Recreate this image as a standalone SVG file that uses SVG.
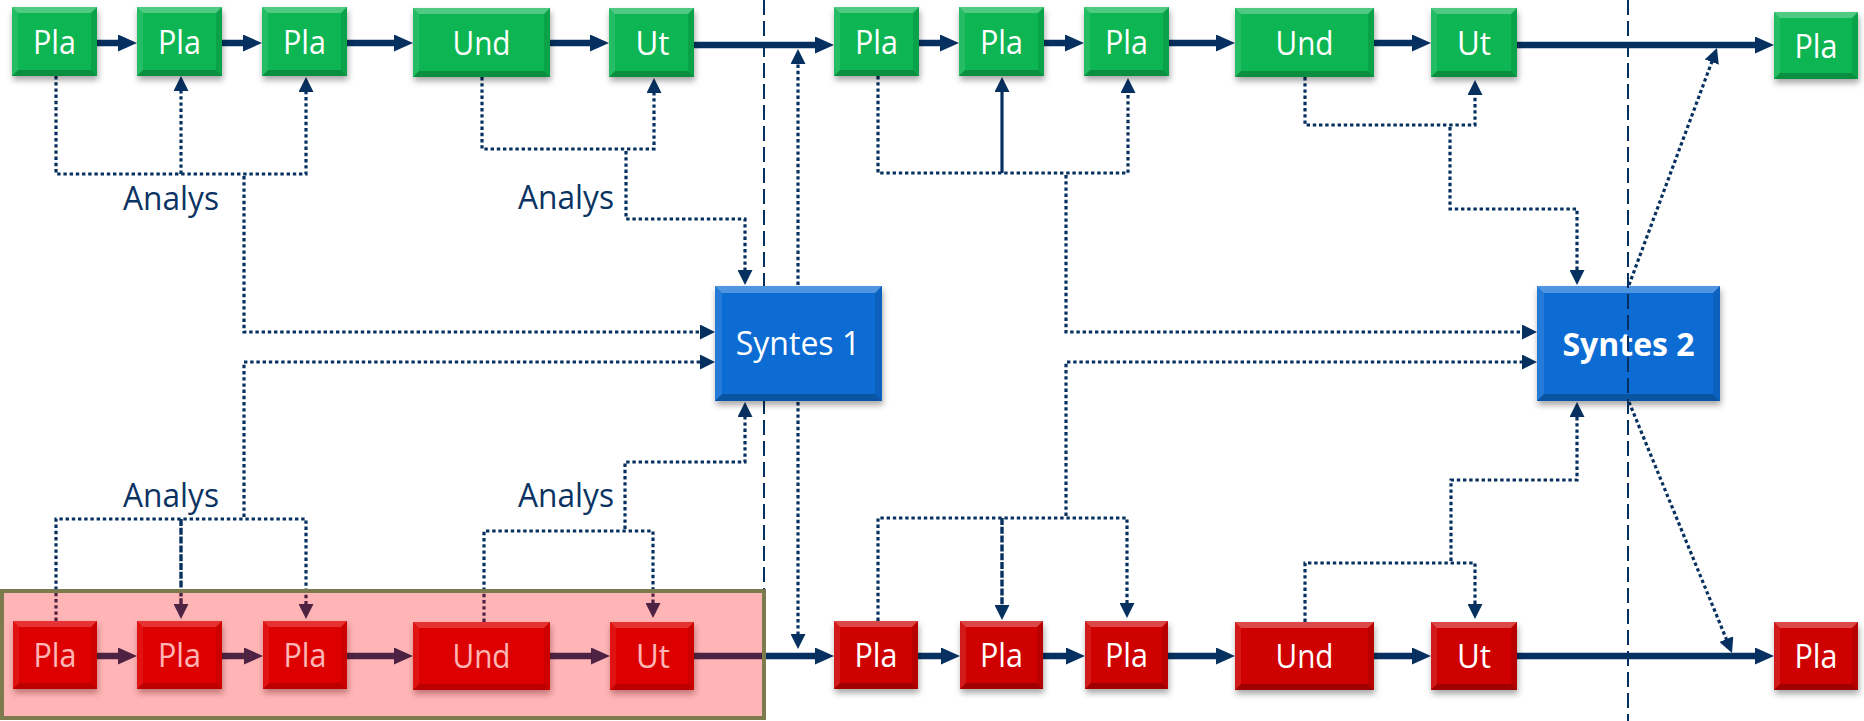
<svg xmlns="http://www.w3.org/2000/svg" width="1864" height="721" viewBox="0 0 1864 721">
<defs>
<style>
.th{fill:none;stroke:#06305F;stroke-width:6.5;marker-end:url(#ab)}
.dt{fill:none;stroke:#06305F;stroke-width:3.2;stroke-dasharray:3.4 2.8}
.dd{fill:none;stroke:#06305F;stroke-width:3.4;stroke-dasharray:7 1.8}
.sl{fill:none;stroke:#06305F;stroke-width:3.2}
.ar{marker-end:url(#as)}
.guide{fill:none;stroke:#06305F;stroke-width:2;stroke-dasharray:15 6}
.g{fill:#08B652}
.b{fill:#0A6CD3}
.r{fill:#CF0606}
.base{filter:url(#sh)}
.bt{fill:#FFFFFF;fill-opacity:0.28}
.bl{fill:#FFFFFF;fill-opacity:0.1}
.br{fill:#000000;fill-opacity:0.1}
.bb{fill:#000000;fill-opacity:0.22}
.lbl{font-family:'Open Sans','Noto Sans','DejaVu Sans',sans-serif;font-size:32px;fill:#FFFFFF;text-anchor:middle}
.syn{font-family:'Open Sans','Noto Sans','DejaVu Sans',sans-serif;font-size:32px;fill:#FFFFFF;text-anchor:middle}
.an{font-family:'Open Sans','Noto Sans','DejaVu Sans',sans-serif;font-size:32px;fill:#0B3363}
</style>
<marker id="ab" markerUnits="userSpaceOnUse" markerWidth="19" markerHeight="17" viewBox="0 0 19 17" refX="1" refY="8.5" orient="auto"><path d="M0,0 L19,8.5 L0,17 z" fill="#06305F"/></marker>
<marker id="as" markerUnits="userSpaceOnUse" markerWidth="15" markerHeight="15" viewBox="0 0 15 15" refX="1" refY="7.5" orient="auto"><path d="M0,0 L15,7.5 L0,15 z" fill="#06305F"/></marker>
<filter id="sh" x="-10%" y="-10%" width="125%" height="140%"><feDropShadow dx="1" dy="4" stdDeviation="3" flood-color="#000000" flood-opacity="0.35"/></filter>
</defs>
<rect width="1864" height="721" fill="#FFFFFF"/>

<line id="guide-left" class="guide" x1="764" y1="0" x2="764" y2="590"/>

<g id="connectors">
<path class="th" d="M97,43 H119"/>
<path class="th" d="M222,43 H244"/>
<path class="th" d="M347,43 H395"/>
<path class="th" d="M550,43 H591"/>
<path class="th" d="M694,45 H816"/>
<path class="th" d="M919,43 H941"/>
<path class="th" d="M1044,43 H1066"/>
<path class="th" d="M1169,43 H1217"/>
<path class="th" d="M1374,43 H1413"/>
<path class="th" d="M1517,45 H1756"/>
<path class="th" d="M97,656 H119"/>
<path class="th" d="M222,656 H245"/>
<path class="th" d="M347,656 H395"/>
<path class="th" d="M550,656 H592"/>
<path class="th" d="M694,656 H816"/>
<path class="th" d="M918,656 H942"/>
<path class="th" d="M1043,656 H1067"/>
<path class="th" d="M1168,656 H1217"/>
<path class="th" d="M1374,656 H1413"/>
<path class="th" d="M1517,656 H1756"/>

<path class="dt ar" d="M56,76 V174 H306 V91"/>
<path class="dt ar" d="M181,174 V90"/>
<path class="dt ar" d="M244,176 V332 H701"/>
<path class="dt ar" d="M482,77 V149 H654 V92"/>
<path class="dt ar" d="M626,151 V219 H745 V271"/>
<path class="dt ar" d="M56,621 V519 H306 V605"/>
<path class="dd ar" d="M181,519 V605"/>
<path class="dt ar" d="M244,517 V362 H701"/>
<path class="dt ar" d="M484,622 V531 H653 V604"/>
<path class="dt ar" d="M625,529 V462 H745 V416"/>
<path class="dt ar" d="M798,285 V63"/>
<path class="dt ar" d="M798,402 V635"/>
<path class="dt ar" d="M878,76 V173 H1128 V92"/>
<path class="sl ar" d="M1002,173 V91"/>
<path class="dt ar" d="M1066,175 V332 H1523"/>
<path class="dt ar" d="M1305,77 V125 H1475 V94"/>
<path class="dt ar" d="M1450,127 V209 H1577 V271"/>
<path class="dt ar" d="M878,621 V518 H1127 V604"/>
<path class="dd ar" d="M1002,518 V606"/>
<path class="dt ar" d="M1066,516 V362 H1523"/>
<path class="dt ar" d="M1305,622 V563 H1475 V605"/>
<path class="dt ar" d="M1451,561 V480 H1577 V416"/>
<path class="dt ar" d="M1629,285 L1712.1,61.1"/>
<path class="dt ar" d="M1629,402 L1726.7,640"/>
</g>

<g id="g1"><rect class="g base" x="12" y="7" width="85" height="69"/><polygon class="bt" points="12,7 97,7 91,13 18,13"/><polygon class="bl" points="12,7 18,13 18,70 12,76"/><polygon class="br" points="97,7 91,13 91,70 97,76"/><polygon class="bb" points="12,76 97,76 91,70 18,70"/><text class="lbl" x="54.5" y="54" textLength="43" lengthAdjust="spacingAndGlyphs">Pla</text></g>
<g id="g2"><rect class="g base" x="137" y="7" width="85" height="69"/><polygon class="bt" points="137,7 222,7 216,13 143,13"/><polygon class="bl" points="137,7 143,13 143,70 137,76"/><polygon class="br" points="222,7 216,13 216,70 222,76"/><polygon class="bb" points="137,76 222,76 216,70 143,70"/><text class="lbl" x="179.5" y="54" textLength="43" lengthAdjust="spacingAndGlyphs">Pla</text></g>
<g id="g3"><rect class="g base" x="262" y="7" width="85" height="69"/><polygon class="bt" points="262,7 347,7 341,13 268,13"/><polygon class="bl" points="262,7 268,13 268,70 262,76"/><polygon class="br" points="347,7 341,13 341,70 347,76"/><polygon class="bb" points="262,76 347,76 341,70 268,70"/><text class="lbl" x="304.5" y="54" textLength="43" lengthAdjust="spacingAndGlyphs">Pla</text></g>
<g id="g4"><rect class="g base" x="413" y="8" width="137" height="69"/><polygon class="bt" points="413,8 550,8 544,14 419,14"/><polygon class="bl" points="413,8 419,14 419,71 413,77"/><polygon class="br" points="550,8 544,14 544,71 550,77"/><polygon class="bb" points="413,77 550,77 544,71 419,71"/><text class="lbl" x="481.5" y="55" textLength="58" lengthAdjust="spacingAndGlyphs">Und</text></g>
<g id="g5"><rect class="g base" x="609" y="8" width="85" height="69"/><polygon class="bt" points="609,8 694,8 688,14 615,14"/><polygon class="bl" points="609,8 615,14 615,71 609,77"/><polygon class="br" points="694,8 688,14 688,71 694,77"/><polygon class="bb" points="609,77 694,77 688,71 615,71"/><text class="lbl" x="652.5" y="55" textLength="34" lengthAdjust="spacingAndGlyphs">Ut</text></g>
<g id="g6"><rect class="g base" x="834" y="7" width="85" height="69"/><polygon class="bt" points="834,7 919,7 913,13 840,13"/><polygon class="bl" points="834,7 840,13 840,70 834,76"/><polygon class="br" points="919,7 913,13 913,70 919,76"/><polygon class="bb" points="834,76 919,76 913,70 840,70"/><text class="lbl" x="876.5" y="54" textLength="43" lengthAdjust="spacingAndGlyphs">Pla</text></g>
<g id="g7"><rect class="g base" x="959" y="7" width="85" height="69"/><polygon class="bt" points="959,7 1044,7 1038,13 965,13"/><polygon class="bl" points="959,7 965,13 965,70 959,76"/><polygon class="br" points="1044,7 1038,13 1038,70 1044,76"/><polygon class="bb" points="959,76 1044,76 1038,70 965,70"/><text class="lbl" x="1001.5" y="54" textLength="43" lengthAdjust="spacingAndGlyphs">Pla</text></g>
<g id="g8"><rect class="g base" x="1084" y="7" width="85" height="69"/><polygon class="bt" points="1084,7 1169,7 1163,13 1090,13"/><polygon class="bl" points="1084,7 1090,13 1090,70 1084,76"/><polygon class="br" points="1169,7 1163,13 1163,70 1169,76"/><polygon class="bb" points="1084,76 1169,76 1163,70 1090,70"/><text class="lbl" x="1126.5" y="54" textLength="43" lengthAdjust="spacingAndGlyphs">Pla</text></g>
<g id="g9"><rect class="g base" x="1235" y="8" width="139" height="69"/><polygon class="bt" points="1235,8 1374,8 1368,14 1241,14"/><polygon class="bl" points="1235,8 1241,14 1241,71 1235,77"/><polygon class="br" points="1374,8 1368,14 1368,71 1374,77"/><polygon class="bb" points="1235,77 1374,77 1368,71 1241,71"/><text class="lbl" x="1304.5" y="55" textLength="58" lengthAdjust="spacingAndGlyphs">Und</text></g>
<g id="g10"><rect class="g base" x="1431" y="8" width="86" height="69"/><polygon class="bt" points="1431,8 1517,8 1511,14 1437,14"/><polygon class="bl" points="1431,8 1437,14 1437,71 1431,77"/><polygon class="br" points="1517,8 1511,14 1511,71 1517,77"/><polygon class="bb" points="1431,77 1517,77 1511,71 1437,71"/><text class="lbl" x="1474" y="55" textLength="34" lengthAdjust="spacingAndGlyphs">Ut</text></g>
<g id="g11"><rect class="g base" x="1774" y="12" width="84" height="67"/><polygon class="bt" points="1774,12 1858,12 1852,18 1780,18"/><polygon class="bl" points="1774,12 1780,18 1780,73 1774,79"/><polygon class="br" points="1858,12 1852,18 1852,73 1858,79"/><polygon class="bb" points="1774,79 1858,79 1852,73 1780,73"/><text class="lbl" x="1816" y="58" textLength="43" lengthAdjust="spacingAndGlyphs">Pla</text></g>

<g id="s1"><rect class="b base" x="715" y="286" width="167" height="115"/><polygon class="bt" points="715,286 882,286 875,293 722,293"/><polygon class="bl" points="715,286 722,293 722,394 715,401"/><polygon class="br" points="882,286 875,293 875,394 882,401"/><polygon class="bb" points="715,401 882,401 875,394 722,394"/><text class="syn" x="798" y="355">Syntes 1</text></g>
<g id="s2"><rect class="b base" x="1537" y="286" width="183" height="115"/><polygon class="bt" points="1537,286 1720,286 1713,293 1544,293"/><polygon class="bl" points="1537,286 1544,293 1544,394 1537,401"/><polygon class="br" points="1720,286 1713,293 1713,394 1720,401"/><polygon class="bb" points="1537,401 1720,401 1713,394 1544,394"/><text class="syn" x="1628.5" y="356" font-weight="bold" font-size="31">Syntes 2</text></g>

<g id="r1"><rect class="r base" x="13" y="621" width="84" height="68"/><polygon class="bt" points="13,621 97,621 91,627 19,627"/><polygon class="bl" points="13,621 19,627 19,683 13,689"/><polygon class="br" points="97,621 91,627 91,683 97,689"/><polygon class="bb" points="13,689 97,689 91,683 19,683"/><text class="lbl" x="55" y="667" textLength="43" lengthAdjust="spacingAndGlyphs">Pla</text></g>
<g id="r2"><rect class="r base" x="137" y="621" width="85" height="68"/><polygon class="bt" points="137,621 222,621 216,627 143,627"/><polygon class="bl" points="137,621 143,627 143,683 137,689"/><polygon class="br" points="222,621 216,627 216,683 222,689"/><polygon class="bb" points="137,689 222,689 216,683 143,683"/><text class="lbl" x="179.5" y="667" textLength="43" lengthAdjust="spacingAndGlyphs">Pla</text></g>
<g id="r3"><rect class="r base" x="263" y="621" width="84" height="68"/><polygon class="bt" points="263,621 347,621 341,627 269,627"/><polygon class="bl" points="263,621 269,627 269,683 263,689"/><polygon class="br" points="347,621 341,627 341,683 347,689"/><polygon class="bb" points="263,689 347,689 341,683 269,683"/><text class="lbl" x="305" y="667" textLength="43" lengthAdjust="spacingAndGlyphs">Pla</text></g>
<g id="r4"><rect class="r base" x="413" y="622" width="137" height="68"/><polygon class="bt" points="413,622 550,622 544,628 419,628"/><polygon class="bl" points="413,622 419,628 419,684 413,690"/><polygon class="br" points="550,622 544,628 544,684 550,690"/><polygon class="bb" points="413,690 550,690 544,684 419,684"/><text class="lbl" x="481.5" y="668" textLength="58" lengthAdjust="spacingAndGlyphs">Und</text></g>
<g id="r5"><rect class="r base" x="610" y="622" width="84" height="68"/><polygon class="bt" points="610,622 694,622 688,628 616,628"/><polygon class="bl" points="610,622 616,628 616,684 610,690"/><polygon class="br" points="694,622 688,628 688,684 694,690"/><polygon class="bb" points="610,690 694,690 688,684 616,684"/><text class="lbl" x="653" y="668" textLength="34" lengthAdjust="spacingAndGlyphs">Ut</text></g>
<g id="r6"><rect class="r base" x="834" y="621" width="84" height="68"/><polygon class="bt" points="834,621 918,621 912,627 840,627"/><polygon class="bl" points="834,621 840,627 840,683 834,689"/><polygon class="br" points="918,621 912,627 912,683 918,689"/><polygon class="bb" points="834,689 918,689 912,683 840,683"/><text class="lbl" x="876" y="667" textLength="43" lengthAdjust="spacingAndGlyphs">Pla</text></g>
<g id="r7"><rect class="r base" x="960" y="621" width="83" height="68"/><polygon class="bt" points="960,621 1043,621 1037,627 966,627"/><polygon class="bl" points="960,621 966,627 966,683 960,689"/><polygon class="br" points="1043,621 1037,627 1037,683 1043,689"/><polygon class="bb" points="960,689 1043,689 1037,683 966,683"/><text class="lbl" x="1001.5" y="667" textLength="43" lengthAdjust="spacingAndGlyphs">Pla</text></g>
<g id="r8"><rect class="r base" x="1085" y="621" width="83" height="68"/><polygon class="bt" points="1085,621 1168,621 1162,627 1091,627"/><polygon class="bl" points="1085,621 1091,627 1091,683 1085,689"/><polygon class="br" points="1168,621 1162,627 1162,683 1168,689"/><polygon class="bb" points="1085,689 1168,689 1162,683 1091,683"/><text class="lbl" x="1126.5" y="667" textLength="43" lengthAdjust="spacingAndGlyphs">Pla</text></g>
<g id="r9"><rect class="r base" x="1235" y="622" width="139" height="68"/><polygon class="bt" points="1235,622 1374,622 1368,628 1241,628"/><polygon class="bl" points="1235,622 1241,628 1241,684 1235,690"/><polygon class="br" points="1374,622 1368,628 1368,684 1374,690"/><polygon class="bb" points="1235,690 1374,690 1368,684 1241,684"/><text class="lbl" x="1304.5" y="668" textLength="58" lengthAdjust="spacingAndGlyphs">Und</text></g>
<g id="r10"><rect class="r base" x="1431" y="622" width="86" height="68"/><polygon class="bt" points="1431,622 1517,622 1511,628 1437,628"/><polygon class="bl" points="1431,622 1437,628 1437,684 1431,690"/><polygon class="br" points="1517,622 1511,628 1511,684 1517,690"/><polygon class="bb" points="1431,690 1517,690 1511,684 1437,684"/><text class="lbl" x="1474" y="668" textLength="34" lengthAdjust="spacingAndGlyphs">Ut</text></g>
<g id="r11"><rect class="r base" x="1774" y="622" width="84" height="68"/><polygon class="bt" points="1774,622 1858,622 1852,628 1780,628"/><polygon class="bl" points="1774,622 1780,628 1780,684 1774,690"/><polygon class="br" points="1858,622 1852,628 1852,684 1858,690"/><polygon class="bb" points="1774,690 1858,690 1852,684 1780,684"/><text class="lbl" x="1816" y="668" textLength="43" lengthAdjust="spacingAndGlyphs">Pla</text></g>

<g id="labels">
<text class="an" x="123" y="210" textLength="96" lengthAdjust="spacingAndGlyphs">Analys</text>
<text class="an" x="518" y="209" textLength="96" lengthAdjust="spacingAndGlyphs">Analys</text>
<text class="an" x="123" y="507" textLength="96" lengthAdjust="spacingAndGlyphs">Analys</text>
<text class="an" x="518" y="507" textLength="96" lengthAdjust="spacingAndGlyphs">Analys</text>
</g>

<line id="guide-right" class="guide" x1="1628" y1="0" x2="1628" y2="721"/>

<rect id="highlight" x="2" y="591" width="762" height="127" fill="#FF0000" fill-opacity="0.29" stroke="#7B7B4E" stroke-width="4"/>
</svg>
